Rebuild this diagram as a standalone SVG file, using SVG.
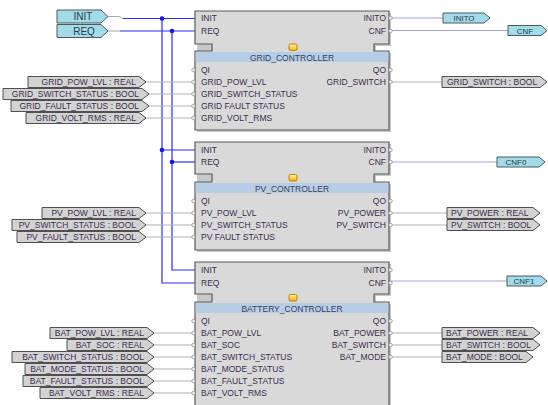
<svg xmlns="http://www.w3.org/2000/svg" width="548" height="405" viewBox="0 0 548 405">
<defs>
<linearGradient id="ico" x1="0" y1="0" x2="0" y2="1"><stop offset="0" stop-color="#fff6b0"/><stop offset="1" stop-color="#f2b400"/></linearGradient>
</defs>
<style>
.blk{fill:#d9d9d9;stroke:#5a5a5a;stroke-width:1.2}
.shd{fill:#9a9a9a;opacity:.55}
.hdr{fill:#b7cde6}
.t{font-family:"Liberation Sans",Arial,sans-serif;font-size:8.5px;fill:#3a2d4d}
.tt{font-family:"Liberation Sans",Arial,sans-serif;font-size:8.5px;fill:#3d3d5a;text-anchor:middle}
.r{text-anchor:end}
.m{text-anchor:middle}
.ev{fill:#a2dbe9;stroke:#4a5a60;stroke-width:1}
.dl{fill:#d3d3d3;stroke:#505050;stroke-width:1}
.ew{stroke:#2a2aff;stroke-width:1.2;fill:none}
.ow{stroke:#a3a3ee;stroke-width:1.2;fill:none}
.dw{stroke:#b3b3b3;stroke-width:1;fill:none}
.gw{stroke:#a8a8a8;stroke-width:1;fill:none}
.port{fill:#f2f2f2;stroke:#8a8a8a;stroke-width:.7}
.dot{fill:#1515f0}
.icon{fill:url(#ico);stroke:#c87a00;stroke-width:1}
.lt{font-family:"Liberation Sans",Arial,sans-serif;font-size:10px;fill:#2a3a48;text-anchor:middle}
.st{font-family:"Liberation Sans",Arial,sans-serif;font-size:8px;fill:#2a3a48;text-anchor:middle}
</style>

<g id="connectors">
<!-- event inputs -->
<polyline class="gw" points="108,16.5 119,16.5 123,18.5"/>
<polyline class="ew" points="123,18.5 196,18.5"/>
<polyline class="gw" points="108,31 120,31"/>
<polyline class="ew" points="120,31 196,31"/>
<polyline class="ew" points="162,18.5 162,283 196,283"/>
<polyline class="ew" points="172,31 172,270 196,270"/>
<line class="ew" x1="162" y1="150" x2="196" y2="150"/>
<line class="ew" x1="172" y1="162" x2="196" y2="162"/>
<circle class="dot" cx="162" cy="18.5" r="2.3"/>
<circle class="dot" cx="172" cy="31" r="2.3"/>
<circle class="dot" cx="162" cy="150" r="2.3"/>
<circle class="dot" cx="172" cy="162" r="2.3"/>
<!-- event outputs -->
<line class="ow" x1="391" y1="18" x2="437" y2="18"/><line class="gw" x1="437" y1="18" x2="443" y2="18"/>
<line class="ow" x1="391" y1="30.5" x2="502" y2="30.5"/><line class="gw" x1="502" y1="30.5" x2="508" y2="30.5"/>
<line class="ow" x1="391" y1="162" x2="491" y2="162"/><line class="gw" x1="491" y1="162" x2="497" y2="162"/>
<line class="ow" x1="391" y1="281" x2="501" y2="281"/><line class="gw" x1="501" y1="281" x2="507" y2="281"/>
<!-- data inputs -->
<line class="dw" x1="146" y1="82" x2="193" y2="82"/>
<line class="dw" x1="149" y1="94" x2="193" y2="94"/>
<line class="dw" x1="149" y1="106" x2="193" y2="106"/>
<line class="dw" x1="146" y1="118" x2="193" y2="118"/>
<line class="dw" x1="146" y1="213" x2="193" y2="213"/>
<line class="dw" x1="146" y1="225" x2="193" y2="225"/>
<line class="dw" x1="146" y1="237" x2="193" y2="237"/>
<line class="dw" x1="154" y1="333" x2="193" y2="333"/>
<line class="dw" x1="154" y1="345" x2="193" y2="345"/>
<line class="dw" x1="154" y1="357" x2="193" y2="357"/>
<line class="dw" x1="154" y1="369" x2="193" y2="369"/>
<line class="dw" x1="154" y1="381" x2="193" y2="381"/>
<line class="dw" x1="154" y1="393" x2="193" y2="393"/>
<!-- data outputs -->
<line class="dw" x1="391" y1="82" x2="442" y2="82"/>
<line class="dw" x1="391" y1="213" x2="447" y2="213"/>
<line class="dw" x1="391" y1="225" x2="447" y2="225"/>
<line class="dw" x1="391" y1="333" x2="442" y2="333"/>
<line class="dw" x1="391" y1="345" x2="442" y2="345"/>
<line class="dw" x1="391" y1="357" x2="442" y2="357"/>
</g>

<g id="in_INIT"><polygon class="ev" points="57,10 101,10 108,16.5 101,23 57,23"/><text class="lt" x="83" y="20">INIT</text></g>
<g id="in_REQ"><polygon class="ev" points="57,24.5 101,24.5 108,31 101,37.5 57,37.5"/><text class="lt" x="84" y="34.5">REQ</text></g>

<g id="out_INITO"><polygon class="ev" points="443,13 484,13 490,18 484,23 443,23"/><text class="st" x="464" y="21">INITO</text></g>
<g id="out_CNF"><polygon class="ev" points="508,25.5 541,25.5 547,30.5 541,35.5 508,35.5"/><text class="st" x="525" y="33.5">CNF</text></g>
<g id="out_CNF0"><polygon class="ev" points="497,157 539,157 545,162 539,167 497,167"/><text class="st" x="516" y="165">CNF0</text></g>
<g id="out_CNF1"><polygon class="ev" points="507,276 541,276 547,281 541,286 507,286"/><text class="st" x="524" y="284">CNF1</text></g>

<g id="lbl_grid_in">
<polygon class="dl" points="28,76.5 139,76.5 146,82 139,87.5 28,87.5"/><text class="t r" x="136" y="85">GRID_POW_LVL : REAL</text>
<polygon class="dl" points="3,88.5 142,88.5 149,94 142,99.5 3,99.5"/><text class="t r" x="139" y="97">GRID_SWITCH_STATUS : BOOL</text>
<polygon class="dl" points="11,100.5 142,100.5 149,106 142,111.5 11,111.5"/><text class="t r" x="139" y="109">GRID_FAULT_STATUS : BOOL</text>
<polygon class="dl" points="26,112.5 139,112.5 146,118 139,123.5 26,123.5"/><text class="t r" x="136" y="121">GRID_VOLT_RMS : REAL</text>
</g>
<g id="lbl_pv_in">
<polygon class="dl" points="42,207.5 139,207.5 146,213 139,218.5 42,218.5"/><text class="t r" x="136" y="216">PV_POW_LVL : REAL</text>
<polygon class="dl" points="12,219.5 139,219.5 146,225 139,230.5 12,230.5"/><text class="t r" x="136" y="228">PV_SWITCH_STATUS : BOOL</text>
<polygon class="dl" points="17,231.5 139,231.5 146,237 139,242.5 17,242.5"/><text class="t r" x="136" y="240">PV_FAULT_STATUS : BOOL</text>
</g>
<g id="lbl_bat_in">
<polygon class="dl" points="50,327.5 147,327.5 154,333 147,338.5 50,338.5"/><text class="t r" x="144" y="336">BAT_POW_LVL : REAL</text>
<polygon class="dl" points="67,339.5 147,339.5 154,345 147,350.5 67,350.5"/><text class="t r" x="144" y="348">BAT_SOC : REAL</text>
<polygon class="dl" points="12,351.5 147,351.5 154,357 147,362.5 12,362.5"/><text class="t r" x="144" y="360">BAT_SWITCH_STATUS : BOOL</text>
<polygon class="dl" points="25,363.5 147,363.5 154,369 147,374.5 25,374.5"/><text class="t r" x="144" y="372">BAT_MODE_STATUS : BOOL</text>
<polygon class="dl" points="23,375.5 147,375.5 154,381 147,386.5 23,386.5"/><text class="t r" x="144" y="384">BAT_FAULT_STATUS : BOOL</text>
<polygon class="dl" points="40,387.5 147,387.5 154,393 147,398.5 40,398.5"/><text class="t r" x="144" y="396">BAT_VOLT_RMS : REAL</text>
</g>
<g id="lbl_out">
<polygon class="dl" points="442,76.5 540,76.5 547,82 540,87.5 442,87.5"/><text class="t" x="447" y="85">GRID_SWITCH : BOOL</text>
<polygon class="dl" points="447,207.5 533,207.5 540,213 533,218.5 447,218.5"/><text class="t" x="451" y="216">PV_POWER : REAL</text>
<polygon class="dl" points="447,219.5 533,219.5 540,225 533,230.5 447,230.5"/><text class="t" x="451" y="228">PV_SWITCH : BOOL</text>
<polygon class="dl" points="442,327.5 533,327.5 540,333 533,338.5 442,338.5"/><text class="t" x="446" y="336">BAT_POWER : REAL</text>
<polygon class="dl" points="442,339.5 533,339.5 540,345 533,350.5 442,350.5"/><text class="t" x="446" y="348">BAT_SWITCH : BOOL</text>
<polygon class="dl" points="442,351.5 526,351.5 533,357 526,362.5 442,362.5"/><text class="t" x="446" y="360">BAT_MODE : BOOL</text>
</g>

<g id="GRID_CONTROLLER">
<path class="shd" d="M197,13 H391 V46 H376 V53 H391 V132 H197 Z"/>
<path class="blk" d="M195,11 H389 V44 H374 V51 H389 V130 H195 V51 H212 V44 H195 Z"/>
<rect class="hdr" x="195.6" y="52" width="192.8" height="10"/>
<rect class="icon" x="289" y="44" width="8" height="6.5" rx="1.5"/>
<text class="tt" x="292" y="60.5">GRID_CONTROLLER</text>
<text class="t" x="201" y="21">INIT</text><text class="t" x="201" y="34">REQ</text>
<text class="t r" x="386" y="21">INITO</text><text class="t r" x="386" y="34">CNF</text>
<text class="t" x="201" y="73">QI</text>
<text class="t" x="201" y="85">GRID_POW_LVL</text>
<text class="t" x="201" y="97">GRID_SWITCH_STATUS</text>
<text class="t" x="201" y="109">GRID FAULT STATUS</text>
<text class="t" x="201" y="121">GRID_VOLT_RMS</text>
<text class="t r" x="386" y="73">QO</text>
<text class="t r" x="386" y="85">GRID_SWITCH</text>
<circle class="port" cx="193.5" cy="70" r="1.8"/><circle class="port" cx="193.5" cy="82" r="1.8"/><circle class="port" cx="193.5" cy="94" r="1.8"/><circle class="port" cx="193.5" cy="106" r="1.8"/><circle class="port" cx="193.5" cy="118" r="1.8"/>
<circle class="port" cx="390.5" cy="18" r="1.8"/><circle class="port" cx="390.5" cy="31" r="1.8"/><circle class="port" cx="390.5" cy="70" r="1.8"/><circle class="port" cx="390.5" cy="82" r="1.8"/>
</g>

<g id="PV_CONTROLLER">
<path class="shd" d="M197,144 H391 V176 H376 V184 H391 V252 H197 Z"/>
<path class="blk" d="M195,142 H389 V174 H374 V182 H389 V250 H195 V182 H212 V174 H195 Z"/>
<rect class="hdr" x="195.6" y="183" width="192.8" height="10"/>
<rect class="icon" x="289" y="174.5" width="8" height="6.5" rx="1.5"/>
<text class="tt" x="292" y="191.5">PV_CONTROLLER</text>
<text class="t" x="201" y="153">INIT</text><text class="t" x="201" y="165">REQ</text>
<text class="t r" x="386" y="153">INITO</text><text class="t r" x="386" y="165">CNF</text>
<text class="t" x="201" y="204">QI</text>
<text class="t" x="201" y="216">PV_POW_LVL</text>
<text class="t" x="201" y="228">PV_SWITCH_STATUS</text>
<text class="t" x="201" y="240">PV FAULT STATUS</text>
<text class="t r" x="386" y="204">QO</text>
<text class="t r" x="386" y="216">PV_POWER</text>
<text class="t r" x="386" y="228">PV_SWITCH</text>
<circle class="port" cx="193.5" cy="201" r="1.8"/><circle class="port" cx="193.5" cy="213" r="1.8"/><circle class="port" cx="193.5" cy="225" r="1.8"/><circle class="port" cx="193.5" cy="237" r="1.8"/>
<circle class="port" cx="390.5" cy="150" r="1.8"/><circle class="port" cx="390.5" cy="162" r="1.8"/><circle class="port" cx="390.5" cy="201" r="1.8"/><circle class="port" cx="390.5" cy="213" r="1.8"/><circle class="port" cx="390.5" cy="225" r="1.8"/>
</g>

<g id="BATTERY_CONTROLLER">
<path class="shd" d="M197,264 H391 V296 H376 V304 H391 V414 H197 Z"/>
<path class="blk" d="M195,262 H389 V294 H374 V302 H389 V412 H195 V302 H212 V294 H195 Z"/>
<rect class="hdr" x="195.6" y="303" width="192.8" height="10"/>
<rect class="icon" x="289" y="294.5" width="8" height="6.5" rx="1.5"/>
<text class="tt" x="292" y="311.5">BATTERY_CONTROLLER</text>
<text class="t" x="201" y="273">INIT</text><text class="t" x="201" y="286">REQ</text>
<text class="t r" x="386" y="273">INITO</text><text class="t r" x="386" y="286">CNF</text>
<text class="t" x="201" y="324">QI</text>
<text class="t" x="201" y="336">BAT_POW_LVL</text>
<text class="t" x="201" y="348">BAT_SOC</text>
<text class="t" x="201" y="360">BAT_SWITCH_STATUS</text>
<text class="t" x="201" y="372">BAT_MODE_STATUS</text>
<text class="t" x="201" y="384">BAT_FAULT_STATUS</text>
<text class="t" x="201" y="396">BAT_VOLT_RMS</text>
<text class="t r" x="386" y="324">QO</text>
<text class="t r" x="386" y="336">BAT_POWER</text>
<text class="t r" x="386" y="348">BAT_SWITCH</text>
<text class="t r" x="386" y="360">BAT_MODE</text>
<circle class="port" cx="193.5" cy="321" r="1.8"/><circle class="port" cx="193.5" cy="333" r="1.8"/><circle class="port" cx="193.5" cy="345" r="1.8"/><circle class="port" cx="193.5" cy="357" r="1.8"/><circle class="port" cx="193.5" cy="369" r="1.8"/><circle class="port" cx="193.5" cy="381" r="1.8"/><circle class="port" cx="193.5" cy="393" r="1.8"/>
<circle class="port" cx="390.5" cy="270" r="1.8"/><circle class="port" cx="390.5" cy="283" r="1.8"/><circle class="port" cx="390.5" cy="321" r="1.8"/><circle class="port" cx="390.5" cy="333" r="1.8"/><circle class="port" cx="390.5" cy="345" r="1.8"/><circle class="port" cx="390.5" cy="357" r="1.8"/>
</g>
</svg>
